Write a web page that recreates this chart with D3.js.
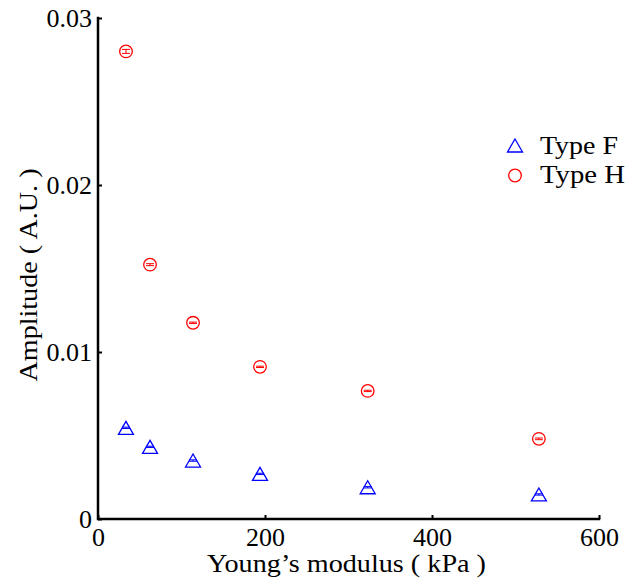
<!DOCTYPE html>
<html><head><meta charset="utf-8">
<script src="https://cdn.jsdelivr.net/npm/d3@7/dist/d3.min.js"></script>
<style>body{margin:0;background:#fff}svg{display:block}text{font-family:"Liberation Serif","DejaVu Serif",serif;fill:#000}</style>
</head><body><svg id="c" width="636" height="580"></svg>
<script>
const youngs = [33.5, 62.3, 113.8, 194, 323, 528];
const typeF = [0.00546, 0.00432, 0.0035, 0.0027, 0.0019, 0.00147];
const typeFErr = [0.00004, 0.00004, 0.00004, 0.00004, 0.00004, 0.00004];
const typeH = [0.0280, 0.01523, 0.01175, 0.00911, 0.00767, 0.0048];
const typeHErr = [0.00012, 0.00006, 0.00004, 0.00004, 0.00004, 0.00005];
const xTicks = [0, 200, 400, 600];
const yTicks = [0, 0.01, 0.02, 0.03];
const yTickLabels = ["0", "0.01", "0.02", "0.03"];
const seriesNames = ["Type F", "Type H"];
const colors = ["#0000ff", "#ff0000"];

const svg = d3.select("#c");
const L = 98, R = 599, T = 18, B = 519;
const x = d3.scaleLinear().domain([0, 600]).range([L, R]);
const y = d3.scaleLinear().domain([0, 0.03]).range([B, T]);

// axes
const xAxis = d3.axisBottom(x).tickValues(xTicks).tickSize(-4).tickPadding(9).tickFormat(d3.format("d"));
const gx = svg.append("g").attr("transform", `translate(0,${B})`).call(xAxis);
const yAxis = d3.axisLeft(y).tickValues(yTicks).tickSize(-4).tickPadding(6).tickFormat((d,i)=>yTickLabels[i]);
const gy = svg.append("g").attr("transform", `translate(${L},0)`).call(yAxis);
[gx, gy].forEach(g => {
  g.select(".domain").remove();
  g.selectAll(".tick line").attr("stroke", "#000").attr("stroke-width", 2);
  g.selectAll(".tick text").style("font-size", "26px").attr("fill", "#000");
});
gx.selectAll(".tick text").attr("dy", "0.68em");
svg.append("path").attr("d", `M${L},${T}V${B}H${R}`).attr("fill", "none").attr("stroke", "#000").attr("stroke-width", 2.5).attr("stroke-linecap","square");

// error bars
function errbars(vals, errs, color) {
  const g = svg.append("g").attr("stroke", color).attr("stroke-width", 1).attr("fill", "none");
  vals.forEach((v, i) => {
    const cx = x(youngs[i]), y1 = y(v - errs[i]), y2 = y(v + errs[i]);
    g.append("path").attr("d", `M${cx},${y1}V${y2}M${cx-4},${y1}H${cx+4}M${cx-4},${y2}H${cx+4}`);
  });
}
errbars(typeF, typeFErr, colors[0]);
errbars(typeH, typeHErr, colors[1]);

function triPath(cx, cy) { return `M${cx},${cy-6.5}L${cx+7.5},${cy+6.5}L${cx-7.5},${cy+6.5}Z`; }

svg.append("g").selectAll("path").data(typeF).join("path")
  .attr("d", (d, i) => triPath(x(youngs[i]), y(d)))
  .attr("fill", "none").attr("stroke", colors[0]).attr("stroke-width", 1.3);
svg.append("g").selectAll("circle").data(typeH).join("circle")
  .attr("cx", (d, i) => x(youngs[i])).attr("cy", d => y(d)).attr("r", 6.3)
  .attr("fill", "none").attr("stroke", colors[1]).attr("stroke-width", 1.3);

// legend
const lg = svg.append("g");
lg.append("path").attr("d", triPath(515, 145.5)).attr("fill", "none").attr("stroke", colors[0]).attr("stroke-width", 1.3);
lg.append("circle").attr("cx", 515).attr("cy", 175.5).attr("r", 6.3).attr("fill", "none").attr("stroke", colors[1]).attr("stroke-width", 1.3);
const legLens = [78, 85];
lg.selectAll("text").data(seriesNames).join("text")
  .attr("x", 540).attr("y", (d, i) => 154 + i * 28.5).style("font-size", "25px")
  .attr("textLength", (d, i) => legLens[i]).attr("lengthAdjust", "spacingAndGlyphs")
  .text(d => d);

// axis labels
svg.append("text").attr("x", 346.5).attr("y", 572).attr("text-anchor", "middle").style("font-size", "26px")
  .attr("textLength", 279).attr("lengthAdjust", "spacingAndGlyphs").text("Young\u2019s modulus ( kPa )");
svg.append("text").attr("transform", "translate(37,275) rotate(-90)").attr("text-anchor", "middle").style("font-size", "25px")
  .attr("textLength", 213).attr("lengthAdjust", "spacingAndGlyphs").text("Amplitude ( A.U. )");
</script></body></html>
